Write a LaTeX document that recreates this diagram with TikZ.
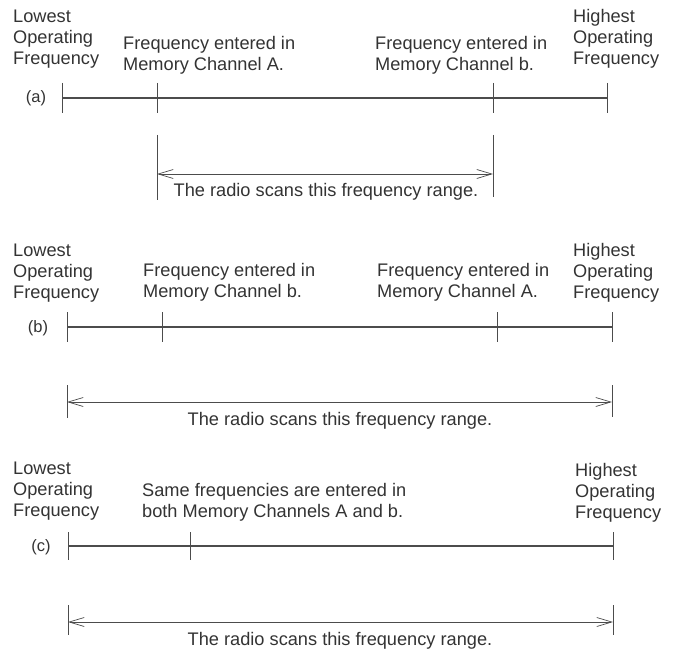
\documentclass[tikz,border=0pt]{standalone}
\usepackage{fontspec}
\setmainfont{Liberation Sans}
\usetikzlibrary{arrows.meta,positioning}

\begin{document}
\begin{tikzpicture}[x=1pt, y=-1pt,
        every node/.style={inner sep=0pt, text=black!80, font=\fontsize{18.2}{21}\selectfont},
        caption/.style={align=left, anchor=west},
        tag/.style={font=\fontsize{16.5}{19}\selectfont},
        axis/.style={draw=black!70, line width=1.3pt},
        tick/.style={draw=black!70, line width=0.9pt},
        span/.style={draw=black!70, line width=0.7pt, {Straight Barb[length=15pt,width=9pt]}-{Straight Barb[length=15pt,width=9pt]}}]
        \useasboundingbox (0, 0) rectangle (675, 650);

        % (a)
        \node[caption] (a-low) at (13, 39) {Lowest\\Operating\\Frequency};
        \node[caption] (a-txtA) at (123, 55) {Frequency entered in\\Memory Channel A.};
        \node[caption] (a-txtB) at (375, 55) {Frequency entered in\\Memory Channel b.};
        \node[caption] (a-high) at (573, 39) {Highest\\Operating\\Frequency};
        \node[tag] (a-tag) at (36, 98) {(a)};
        \coordinate (a-lo) at (62, 98);
        \coordinate (a-A) at (157, 98);
        \coordinate (a-B) at (493, 98);
        \coordinate (a-hi) at (607, 98);
        \draw[axis] (a-lo) -- (a-hi);
        \foreach \p in {a-lo, a-A, a-B, a-hi}
            \draw[tick] ([yshift=15pt]\p) -- ([yshift=-15pt]\p);
        \coordinate (a-s1) at (157, 174);
        \coordinate (a-s2) at (493, 174);
        \draw[tick] ([yshift=39pt]a-s1) -- ([yshift=-26pt]a-s1);
        \draw[tick] ([yshift=39pt]a-s2) -- ([yshift=-23pt]a-s2);
        \draw[span] (a-s1) -- (a-s2);
        \node (a-scan) at (326, 192) {The radio scans this frequency range.};

        % (b)
        \node[caption] (b-low) at (13, 273) {Lowest\\Operating\\Frequency};
        \node[caption] (b-txtB) at (143, 282) {Frequency entered in\\Memory Channel b.};
        \node[caption] (b-txtA) at (377, 282) {Frequency entered in\\Memory Channel A.};
        \node[caption] (b-high) at (573, 273) {Highest\\Operating\\Frequency};
        \node[tag] (b-tag) at (38, 328) {(b)};
        \coordinate (b-lo) at (67, 327);
        \coordinate (b-B) at (162, 327);
        \coordinate (b-A) at (497, 327);
        \coordinate (b-hi) at (612, 327);
        \draw[axis] (b-lo) -- (b-hi);
        \foreach \p in {b-lo, b-B, b-A, b-hi}
            \draw[tick] ([yshift=15pt]\p) -- ([yshift=-15pt]\p);
        \coordinate (b-s1) at (67, 402);
        \coordinate (b-s2) at (612, 402);
        \draw[tick] ([yshift=17pt]b-s1) -- ([yshift=-16pt]b-s1);
        \draw[tick] ([yshift=17pt]b-s2) -- ([yshift=-15pt]b-s2);
        \draw[span] (b-s1) -- (b-s2);
        \node (b-scan) at (340, 421) {The radio scans this frequency range.};

        % (c)
        \node[caption] (c-low) at (13, 491) {Lowest\\Operating\\Frequency};
        \node[caption] (c-txt) at (142, 502) {Same frequencies are entered in\\both Memory Channels A and b.};
        \node[caption] (c-high) at (575, 493) {Highest\\Operating\\Frequency};
        \node[tag] (c-tag) at (41, 547) {(c)};
        \coordinate (c-lo) at (68, 546);
        \coordinate (c-AB) at (190, 546);
        \coordinate (c-hi) at (613, 546);
        \draw[axis] (c-lo) -- (c-hi);
        \foreach \p in {c-lo, c-AB, c-hi}
            \draw[tick] ([yshift=14pt]\p) -- ([yshift=-14pt]\p);
        \coordinate (c-s1) at (68, 622);
        \coordinate (c-s2) at (613, 622);
        \foreach \p in {c-s1, c-s2}
            \draw[tick] ([yshift=17pt]\p) -- ([yshift=-13pt]\p);
        \draw[span] (c-s1) -- (c-s2);
        \node (c-scan) at (340, 641) {The radio scans this frequency range.};
    \end{tikzpicture}
\end{document}
